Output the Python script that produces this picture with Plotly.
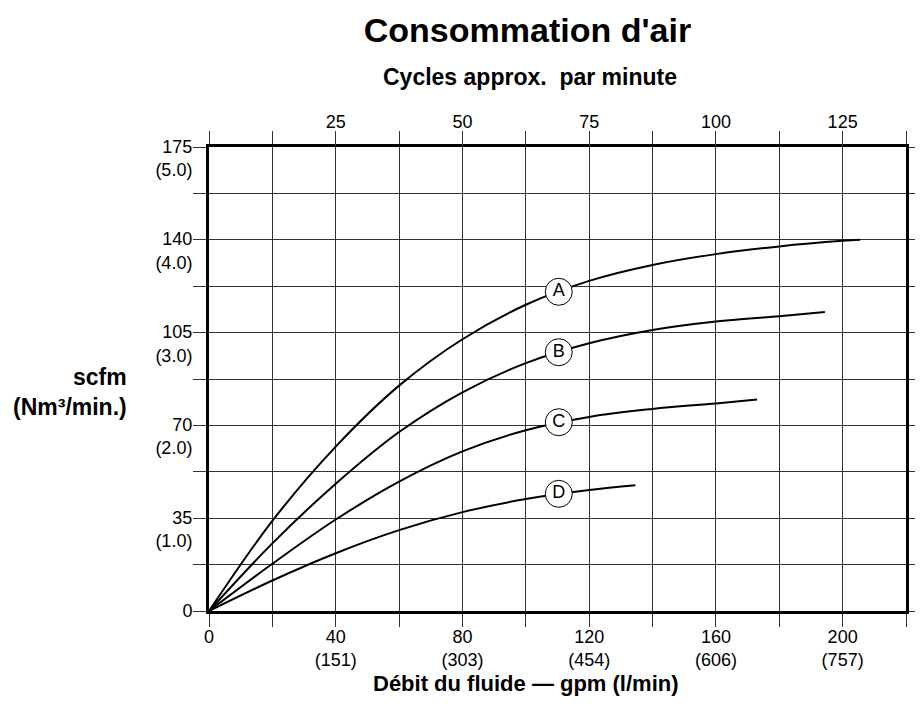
import plotly.graph_objects as go

FONT = "Liberation Sans, Arial, sans-serif"
GRID = "#333333"

# curves: flow (gpm) vs air consumption (scfm)
a_gpm = [0, 20, 40, 60, 80, 100, 120, 140, 160, 180, 200, 205.5]
a_scfm = [0, 34, 62, 85, 102.5, 115.5, 124.5, 130.5, 134.6, 137.5, 139.6, 140]

b_gpm = [0, 20, 40, 60, 80, 100, 120, 140, 160, 180, 194.4]
b_scfm = [0, 25.5, 48, 67.5, 82.5, 93.5, 101, 106, 109.2, 111.2, 112.8]

c_gpm = [0, 20, 40, 60, 80, 100, 120, 140, 160, 173]
c_scfm = [0, 17.8, 34.5, 48.8, 60.2, 68.2, 73.2, 76.2, 78.3, 79.8]

d_gpm = [0, 20, 40, 60, 80, 100, 120, 134.6]
d_scfm = [0, 11.5, 21.8, 30.5, 37.3, 42.2, 45.6, 47.4]

curve_names = ["A", "B", "C", "D"]
label_gpm = [110.4, 110.4, 110.4, 110.4]
label_scfm = [120.4, 97.6, 71.2, 44.2]

# axes
x_ticks = [0, 20, 40, 60, 80, 100, 120, 140, 160, 180, 200, 220]
x_text = ["0", "", "40<br>(151)", "", "80<br>(303)", "", "120<br>(454)", "",
          "160<br>(606)", "", "200<br>(757)", ""]
y_ticks = [0, 17.5, 35, 52.5, 70, 87.5, 105, 122.5, 140, 157.5, 175]
y_text = ["0<br>\u00a0", "", "35<br>(1.0)", "", "70<br>(2.0)", "", "105<br>(3.0)", "",
          "140<br>(4.0)", "", "175<br>(5.0)"]
cycles_ticks = [25, 50, 75, 100, 125]
cycles_per_gpm = 25 / 40

fig = go.Figure()
for xs, ys in [(a_gpm, a_scfm), (b_gpm, b_scfm), (c_gpm, c_scfm), (d_gpm, d_scfm)]:
    fig.add_trace(go.Scatter(x=xs, y=ys, mode="lines", line_shape="spline",
                             line=dict(color="black", width=2), hoverinfo="skip"))

fig.add_trace(go.Scatter(
    x=label_gpm, y=label_scfm, mode="markers+text", text=curve_names,
    textposition="middle center",
    textfont=dict(family=FONT, size=18, color="black"),
    marker=dict(symbol="circle", size=27, color="white",
                line=dict(color="black", width=1)),
    hoverinfo="skip",
))

# invisible trace so the top cycles axis renders
fig.add_trace(go.Scatter(x=[0, 220 * cycles_per_gpm], y=[0, 0], xaxis="x2",
                         mode="markers", marker=dict(opacity=0), hoverinfo="skip"))

fig.update_layout(
    width=923, height=720,
    margin=dict(l=201, r=25, t=139, b=117, autoexpand=False),
    paper_bgcolor="white", plot_bgcolor="white",
    showlegend=False,
    font=dict(family=FONT, size=18, color="black"),
    title=dict(text="<b>Consommation d'air</b>", x=0.5628, xanchor="center",
               y=1 - 22 / 720, yanchor="middle", font=dict(size=34, family=FONT)),
    xaxis=dict(range=[0, 220], tickvals=x_ticks, ticktext=x_text,
               showgrid=True, gridcolor=GRID, gridwidth=1, zeroline=False,
               showline=True, linecolor="black", linewidth=3, mirror="ticks",
               ticks="outside", ticklen=13, tickwidth=1, tickcolor=GRID,
               tickfont=dict(size=18), ticklabelstandoff=-6),
    xaxis2=dict(range=[0, 220 * cycles_per_gpm], overlaying="x", side="top",
                tickvals=cycles_ticks, showgrid=False, zeroline=False,
                showline=False, ticks="outside", ticklen=13, tickwidth=1,
                tickcolor=GRID, tickfont=dict(size=18), ticklabelstandoff=-2),
    yaxis=dict(range=[0, 175], tickvals=y_ticks, ticktext=y_text,
               showgrid=True, gridcolor=GRID, gridwidth=1, zeroline=False,
               showline=True, linecolor="black", linewidth=3, mirror="ticks",
               ticks="outside", ticklen=13, tickwidth=1, tickcolor=GRID,
               tickfont=dict(size=18), ticklabelshift=11, ticklabelstandoff=-3),
    annotations=[
        dict(text="<b>Cycles approx.\u00a0\u00a0par minute</b>", xref="paper", yref="paper",
             x=0.4606, y=1.1514, xanchor="center", yanchor="middle",
             showarrow=False, font=dict(size=23)),
        dict(text="<b>Débit du fluide — gpm (l/min)</b>", xref="paper", yref="paper",
             x=0.455, y=-0.156, xanchor="center", yanchor="middle",
             showarrow=False, font=dict(size=22)),
        dict(text="<b>scfm<br>(Nm³/min.)</b>", xref="paper", yref="paper",
             x=-0.1147, y=(611.7 - 393) / 464.4, xanchor="right", yanchor="middle",
             align="right", showarrow=False, font=dict(size=23)),
    ],
)

fig.write_html("out.html")
